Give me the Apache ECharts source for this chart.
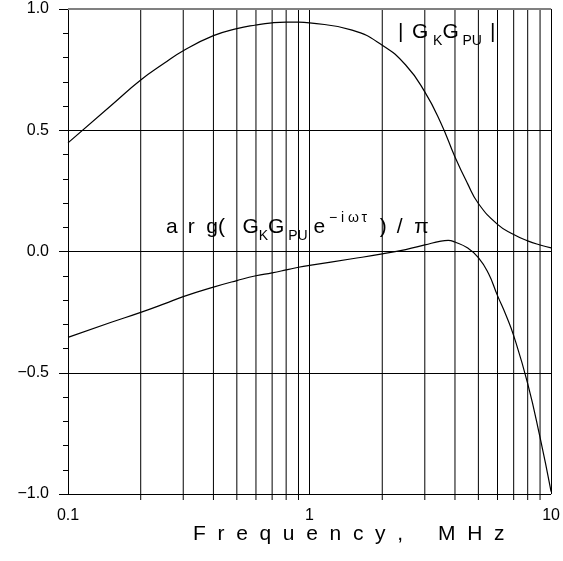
<!DOCTYPE html>
<html>
<head>
<meta charset="utf-8">
<script src="https://cdn.jsdelivr.net/npm/echarts@6/dist/echarts.min.js"></script>
<style>
html, body { margin: 0; padding: 0; background: #fff; }
#echartsMain { width: 563px; height: 561px; }
</style>
</head>
<body>
<div id="echartsMain"></div>
<script>
// data (frequency in MHz)
var magFreq = [0.1, 0.15, 0.2, 0.25, 0.3, 0.4, 0.5, 0.6, 0.7, 0.8, 0.9, 1, 1.5, 2, 2.5, 3, 3.5, 4, 4.5, 5, 6, 7, 8, 9, 10];
var magValues = [0.448, 0.6, 0.707, 0.776, 0.828, 0.89, 0.919, 0.934, 0.943, 0.946, 0.946, 0.943, 0.913, 0.851, 0.769, 0.658, 0.529, 0.39, 0.282, 0.198, 0.112, 0.07, 0.044, 0.027, 0.015];

var argFreq = [0.1, 0.15, 0.2, 0.25, 0.3, 0.4, 0.5, 0.6, 0.7, 0.8, 0.9, 1, 1.5, 2, 2.5, 3, 3.5, 3.75, 4, 4.5, 5, 5.5, 6, 6.5, 7, 8, 9, 10];
var argValues = [-0.354, -0.293, -0.251, -0.216, -0.186, -0.147, -0.12, -0.1, -0.088, -0.076, -0.065, -0.057, -0.03, -0.01, 0.008, 0.027, 0.043, 0.046, 0.039, 0.015, -0.025, -0.09, -0.182, -0.262, -0.347, -0.545, -0.767, -0.99];

// tick labels
var xTicks = [0.1, 1, 10];
var xTickLabels = ['0.1', '1', '10'];
var yTicks = [-1, -0.5, 0, 0.5, 1];
var yTickLabels = ['\u22121.0', '\u22120.5', '0.0', '0.5', '1.0'];

// vertical grid lines between the decades
var minorFreqs = [0.2, 0.3, 0.4, 0.5, 0.6, 0.7, 0.8, 0.9, 2, 3, 4, 5, 6, 7, 8, 9];

var FONT = 'Liberation Sans';

function pairs(xs, ys) {
	return xs.map(function (x, i) { return [x, ys[i]]; });
}

function pickLabel(ticks, labels, v) {
	var i = ticks.findIndex(function (t) { return Math.abs(t - v) < 1e-9; });
	return i >= 0 ? labels[i] : '';
}

// curve annotations, pieces placed by hand: [text, left x, kind]
// kind: 0 = normal, 1 = subscript, 2 = superscript
var magLabel = [['|', 398, 0], ['G', 412, 0], ['K', 433, 1], ['G', 442.5, 0], ['PU', 462.5, 1], ['|', 490, 0]];
var argLabel = [
	['a', 166, 0], ['r', 187.7, 0], ['g', 206.3, 0], ['(', 218, 0],
	['G', 242.4, 0], ['K', 258.7, 1], ['G', 268, 0], ['PU', 288.2, 1], ['e', 313.4, 0],
	['\u2212', 329, 2], ['i', 341.1, 2], ['\u03c9', 348.1, 2], ['\u03c4', 361.6, 2],
	[')', 379.8, 0], ['/', 396.8, 0], ['\u03c0', 414.2, 0]
];

function annotation(pieces, baseline) {
	var sizes = [21, 14, 14];
	var shifts = [0, 6, -12];
	return pieces.map(function (p) {
		var fs = sizes[p[2]];
		return {
			type: 'text',
			x: p[1],
			y: baseline + shifts[p[2]] - 0.38 * fs,
			silent: true,
			style: {
				text: p[0],
				fill: '#000',
				fontFamily: FONT,
				fontSize: fs,
				align: 'left',
				verticalAlign: 'middle'
			}
		};
	});
}

var myChart = echarts.init(document.getElementById('echartsMain'));

var option = {
	animation: false,
	backgroundColor: '#fff',
	title: {
		text: 'F  r  e  q  u  e  n  c  y  ,      M  H  z',
		left: 193,
		top: 524,
		padding: 0,
		textStyle: { fontFamily: FONT, fontSize: 21, fontWeight: 'normal', color: '#000' }
	},
	grid: { left: 68, right: 10, top: 9, bottom: 67 },
	xAxis: {
		type: 'log',
		logBase: 10,
		min: 0.1,
		max: 10,
		axisLine: { lineStyle: { color: '#000', width: 1 } },
		axisTick: { show: true, inside: false, length: 9, lineStyle: { color: '#000' } },
		axisLabel: {
			margin: 14,
			fontFamily: FONT,
			fontSize: 16,
			color: '#000',
			formatter: function (v) { return pickLabel(xTicks, xTickLabels, v); }
		},
		splitLine: { show: true, lineStyle: { color: '#000', width: 1 } }
	},
	yAxis: {
		type: 'value',
		min: -1,
		max: 1,
		interval: 0.5,
		axisLine: { show: true, lineStyle: { color: '#000', width: 1 } },
		axisTick: { show: true, inside: false, length: 9, lineStyle: { color: '#000' } },
		minorTick: { show: true, splitNumber: 5, length: 5, lineStyle: { color: '#000' } },
		axisLabel: {
			margin: 19,
			fontFamily: FONT,
			fontSize: 16,
			color: '#000',
			formatter: function (v) { return pickLabel(yTicks, yTickLabels, v); }
		},
		splitLine: { show: true, showMaxLine: false, lineStyle: { color: '#000', width: 1 } }
	},
	graphic: annotation(magLabel, 40).concat(annotation(argLabel, 235)),
	series: [
		{
			// minor vertical grid lines, running a little below the axis like ticks
			type: 'custom',
			data: minorFreqs.map(function (f) { return [f]; }),
			clip: false,
			silent: true,
			z: 1,
			encode: { x: 0 },
			renderItem: function (params, api) {
				var f = api.value(0);
				var top = api.coord([f, 1]);
				var bottom = api.coord([f, -1]);
				return {
					type: 'line',
					shape: { x1: top[0], y1: top[1], x2: bottom[0], y2: bottom[1] + 6 },
					style: { stroke: '#000', lineWidth: 1 }
				};
			}
		},
		{
			name: '|GKGPU|',
			type: 'line',
			data: pairs(magFreq, magValues),
			smooth: true,
			showSymbol: false,
			lineStyle: { color: '#000', width: 1.2 },
			z: 5
		},
		{
			name: 'arg',
			type: 'line',
			data: pairs(argFreq, argValues),
			smooth: true,
			showSymbol: false,
			lineStyle: { color: '#000', width: 1.2 },
			z: 5,
			markLine: {
				silent: true,
				symbol: ['none', 'none'],
				label: { show: false },
				lineStyle: { color: '#808080', width: 2, type: 'solid' },
				data: [{ yAxis: 1 }]
			}
		}
	]
};

myChart.setOption(option);
</script>
</body>
</html>
